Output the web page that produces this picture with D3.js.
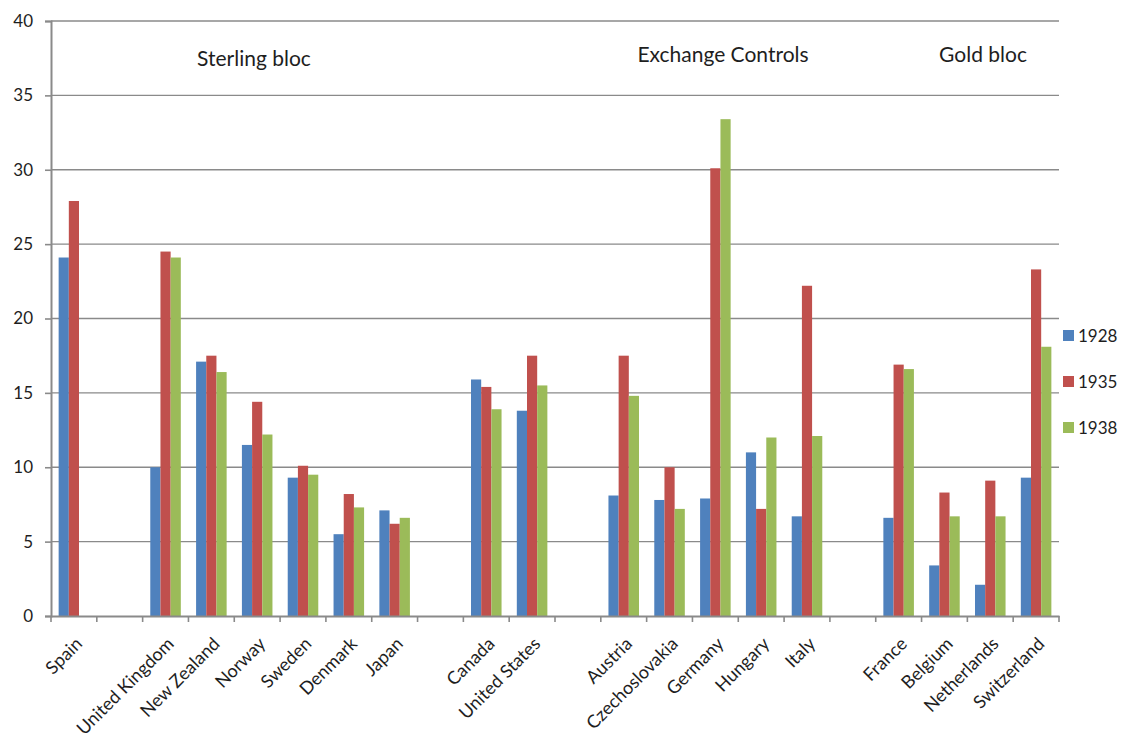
<!DOCTYPE html>
<html>
<head>
<meta charset="utf-8">
<script src="https://cdn.jsdelivr.net/npm/d3@7"></script>
<style>
  html, body { margin: 0; padding: 0; background: #ffffff; }
  svg { display: block; }
  text { font-family: Lato, "Liberation Sans", sans-serif; fill: #1e1e1e; }
</style>
</head>
<body>
<svg id="chart" width="1123" height="741"></svg>
<script>
// Countries along the x axis; empty entries are spacer slots between blocs.
const categories = [
  "Spain", "",
  "United Kingdom", "New Zealand", "Norway", "Sweden", "Denmark", "Japan", "",
  "Canada", "United States", "",
  "Austria", "Czechoslovakia", "Germany", "Hungary", "Italy", "",
  "France", "Belgium", "Netherlands", "Switzerland"
];
const years = ["1928", "1935", "1938"];
const values1928 = [24.1, null, 10.0, 17.1, 11.5, 9.3, 5.5, 7.1, null, 15.9, 13.8, null, 8.1, 7.8, 7.9, 11.0, 6.7, null, 6.6, 3.4, 2.1, 9.3];
const values1935 = [27.9, null, 24.5, 17.5, 14.4, 10.1, 8.2, 6.2, null, 15.4, 17.5, null, 17.5, 10.0, 30.1, 7.2, 22.2, null, 16.9, 8.3, 9.1, 23.3];
const values1938 = [null, null, 24.1, 16.4, 12.2, 9.5, 7.3, 6.6, null, 13.9, 15.5, null, 14.8, 7.2, 33.4, 12.0, 12.1, null, 16.6, 6.7, 6.7, 18.1];
const yTicks = [0, 5, 10, 15, 20, 25, 30, 35, 40];
const blocLabels = ["Sterling bloc", "Exchange Controls", "Gold bloc"];

const seriesValues = [values1928, values1935, values1938];
const colors = ["#4F81BD", "#C0504D", "#9BBB59"];
const gridColor = "#8a8a8a";

const svg = d3.select("#chart");
const plot = { left: 51, right: 1059, top: 21, bottom: 616 };

const idx = d3.range(categories.length);
const x0 = d3.scaleBand().domain(idx).range([plot.left, plot.right]).padding(0);
const bw = x0.bandwidth();
const gap = bw * 1.5 / 4.5;
const x1 = d3.scaleBand().domain(years).range([gap / 2, bw - gap / 2]).padding(0);
const y = d3.scaleLinear().domain([0, 40]).range([plot.bottom, plot.top]);

// Horizontal gridlines
svg.append("g")
  .selectAll("line")
  .data(yTicks.filter(t => t > 0))
  .join("line")
  .attr("x1", plot.left).attr("x2", plot.right)
  .attr("y1", d => y(d)).attr("y2", d => y(d))
  .attr("stroke", gridColor).attr("stroke-width", 1.4);

// Bars
const rows = [];
years.forEach((yr, s) => {
  seriesValues[s].forEach((v, i) => {
    if (v != null) rows.push({ i, yr, s, v });
  });
});
svg.append("g")
  .selectAll("rect")
  .data(rows)
  .join("rect")
  .attr("x", d => x0(d.i) + x1(d.yr))
  .attr("width", x1.bandwidth())
  .attr("y", d => y(d.v))
  .attr("height", d => y(0) - y(d.v))
  .attr("fill", d => colors[d.s]);

// Y axis
const yAxis = svg.append("g")
  .attr("transform", `translate(${plot.left},0)`)
  .call(d3.axisLeft(y).tickValues(yTicks).tickSize(6).tickPadding(12).tickFormat(d3.format("d")));
yAxis.select(".domain").attr("stroke", gridColor).attr("stroke-width", 2);
yAxis.selectAll(".tick line").attr("stroke", gridColor).attr("stroke-width", 1.6);
yAxis.selectAll(".tick text").style("font-size", "17px").style("font-family", "Lato, sans-serif").attr("fill", "#1e1e1e");

// X axis line with ticks on category boundaries
const xAxis = svg.append("g")
  .attr("transform", `translate(0,${plot.bottom})`)
  .call(d3.axisBottom(x0).tickValues([]).tickSizeOuter(0));
xAxis.select(".domain").attr("stroke", gridColor).attr("stroke-width", 2);
const bounds = idx.map(i => x0(i)).concat([plot.right]);
xAxis.selectAll(".bound")
  .data(bounds)
  .join("line")
  .attr("class", "bound")
  .attr("x1", d => d).attr("x2", d => d)
  .attr("y1", 0).attr("y2", 6)
  .attr("stroke", gridColor).attr("stroke-width", 1.6);

// Rotated category labels
svg.append("g")
  .selectAll("text")
  .data(idx.filter(i => categories[i] !== ""))
  .join("text")
  .attr("transform", i => `translate(${x0(i) + bw / 2 + 9.5},${plot.bottom + 29}) rotate(-45)`)
  .attr("text-anchor", "end")
  .style("font-size", "18px")
  .text(i => categories[i]);

// Bloc annotations
const blocX = [254, 723, 983];
const blocY = [66, 62, 62];
svg.append("g")
  .selectAll("text")
  .data(blocLabels)
  .join("text")
  .attr("x", (d, k) => blocX[k])
  .attr("y", (d, k) => blocY[k])
  .attr("text-anchor", "middle")
  .style("font-size", "21px")
  .text(d => d);

// Legend
const legend = svg.append("g").attr("transform", "translate(1063,330)");
years.forEach((yr, s) => {
  const g = legend.append("g").attr("transform", `translate(0,${s * 46})`);
  g.append("rect").attr("width", 11).attr("height", 11).attr("fill", colors[s]);
  g.append("text").attr("x", 15).attr("y", 6).attr("dy", "0.35em")
    .style("font-size", "17px").text(yr);
});
</script>
</body>
</html>
